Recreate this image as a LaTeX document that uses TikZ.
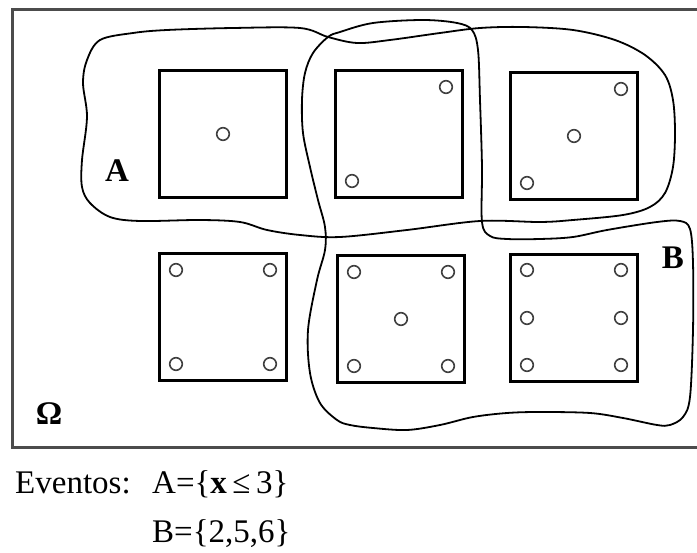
\documentclass[tikz,border=0pt]{standalone}
\usepackage{fontspec}
\setmainfont{Liberation Serif}
\usetikzlibrary{calc}
\begin{document}
\begin{tikzpicture}[x=1pt,y=-1pt,
  frame/.style={draw=black!70, line width=3pt},
  diebox/.style={draw=black, line width=2.2pt, minimum width=127pt, minimum height=127pt, inner sep=0pt},
  pipline/.style={draw=black!75, line width=1.6pt},
  blob/.style={draw=black, line width=1.8pt},
  setlabel/.style={font=\fontsize{33}{33}\selectfont\bfseries, inner sep=0pt},
  eventtext/.style={font=\fontsize{33}{33}\selectfont, inner sep=0pt, anchor=base west}]
  \useasboundingbox (0,0) rectangle (697,553);
  \clip (0,0) rectangle (697,553);

  % sample space
  \draw[frame] (12,10) rectangle (720,448);

  % the six faces of the die
  \node[diebox] (d1) at (223,134) {};
  \node[diebox] (d2) at (399,134) {};
  \node[diebox] (d3) at (574,136) {};
  \node[diebox] (d4) at (223,317) {};
  \node[diebox] (d5) at (401,319) {};
  \node[diebox] (d6) at (574,318) {};

  % pips, placed relative to each face centre
  \newcommand\drawpip[3]{\draw[pipline] ($(#1)+(#2,#3)$) circle[radius=6.3pt];}
  \drawpip{d1}{0}{0}
  \drawpip{d2}{47}{-47}  \drawpip{d2}{-47}{47}
  \drawpip{d3}{47}{-47}  \drawpip{d3}{0}{0}  \drawpip{d3}{-47}{47}
  \drawpip{d4}{-47}{-47} \drawpip{d4}{47}{-47} \drawpip{d4}{-47}{47} \drawpip{d4}{47}{47}
  \drawpip{d5}{-47}{-47} \drawpip{d5}{47}{-47} \drawpip{d5}{0}{0}
  \drawpip{d5}{-47}{47}  \drawpip{d5}{47}{47}
  \drawpip{d6}{-47}{-48} \drawpip{d6}{47}{-48}
  \drawpip{d6}{-47}{0}   \drawpip{d6}{47}{0}
  \drawpip{d6}{-47}{47}  \drawpip{d6}{47}{47}

  % event A
  \draw[blob] plot[smooth cycle, tension=0.55] coordinates {
    (100,40) (133,33) (167,30) (233,28) (300,28) (328,37) (357,43)
    (390,40) (440,33) (480,28) (523,27) (573,30) (615,40) (645,55)
    (665,75) (673,100) (675,133) (673,167) (665,193) (650,207) (623,215)
    (573,220) (540,222) (480,221) (407,230) (340,237) (300,235) (267,230)
    (240,222) (200,220) (140,221) (110,217) (90,203) (82,187) (82,160)
    (87,117) (83,83) (87,60)};

  % event B
  \draw[blob] plot[smooth cycle, tension=0.55] coordinates {
    (328,37) (340,32) (373,23) (423,20) (457,23) (472,30) (478,50)
    (480,100) (482,167) (482,222) (490,236) (507,239) (540,239) (573,237)
    (607,230) (657,222) (680,221) (690,229) (693,263) (693,330) (690,397)
    (683,417) (670,425) (657,425) (623,418) (590,413) (540,412) (507,413)
    (473,417) (440,425) (407,430) (373,428) (350,425) (337,420) (320,403)
    (310,373) (308,330) (317,280) (325,250) (325,227) (318,200) (310,167)
    (303,133) (302,100) (305,73) (313,53)};

  % labels
  \node[setlabel] (labA) at (117,171) {A};
  \node[setlabel] (labB) at (673,258) {B};
  \node[setlabel] (labO) at (49,414) {Ω};

  % event definitions
  \node[eventtext] (ev0) at (15,494) {Eventos:};
  \node[eventtext] (evA) at (152,494) {A=\{\textbf{x}\,≤\,3\}};
  \node[eventtext] (evB) at (152,543) {B=\{2,5,6\}};
\end{tikzpicture}
\end{document}
